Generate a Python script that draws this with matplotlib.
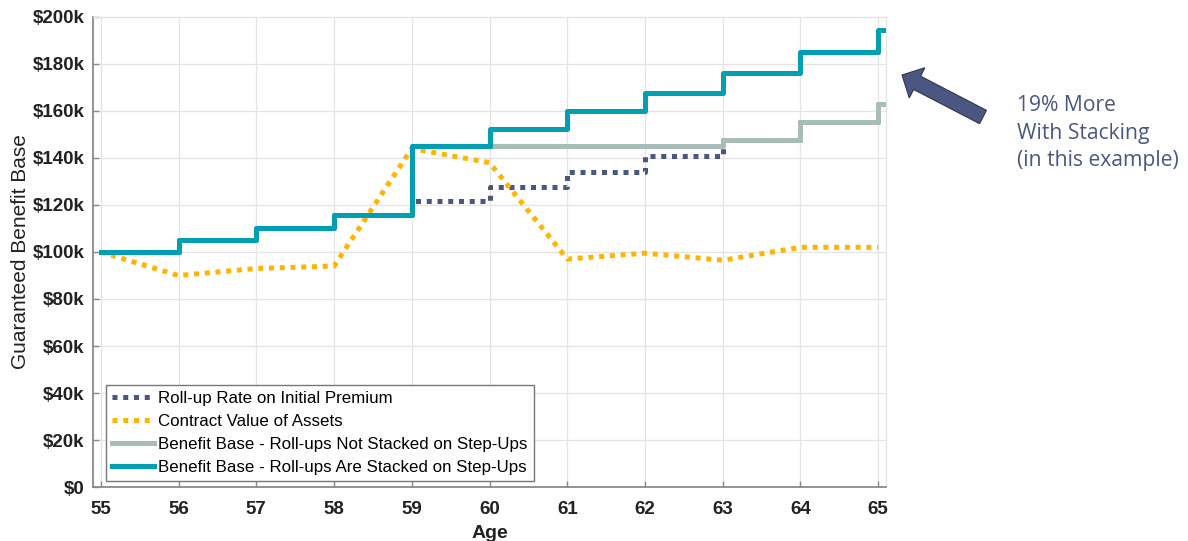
import numpy as np
import matplotlib.pyplot as plt
from matplotlib.patches import Polygon
from matplotlib.ticker import FuncFormatter

plt.rcParams['font.family'] = ['Liberation Sans', 'DejaVu Sans']

# ages and values (thousands of dollars)
ages = [55, 56, 57, 58, 59, 60, 61, 62, 63, 64, 65]
rollup = [100, 105, 110.25, 115.76, 121.55, 127.63, 134.01, 140.71, 147.75, 155.13, 162.89]
contract = [100, 90, 93, 94, 144, 138, 97, 99.5, 96.5, 102, 102]
not_stacked = [100, 105, 110.25, 115.76, 145, 145, 145, 145, 147.75, 155.13, 162.89]
stacked = [100, 105, 110.25, 115.76, 145, 152.25, 159.86, 167.86, 176.25, 185.06, 194.31]

# step lines run a little past the last age
step_ages = ages + [65.1]

C_NAVY = '#4b5682'
C_GOLD = '#ffb500'
C_GRAY = '#a8bcb8'
C_TEAL = '#009fb2'

W, H = 1188, 541
fig = plt.figure(figsize=(W / 100, H / 100), dpi=100)
ax = fig.add_axes([0.0783, 0.0998, 0.6675, 0.8688])

LW = 3.6
dots = (0, (1, 1.15))
ax.plot(step_ages, rollup + [rollup[-1]], drawstyle='steps-post', color=C_NAVY,
        lw=LW, linestyle=dots, dash_capstyle='butt', label='Roll-up Rate on Initial Premium', zorder=3)
ax.plot(ages, contract, color=C_GOLD, lw=LW, linestyle=dots, dash_capstyle='butt',
        label='Contract Value of Assets', zorder=3)
ax.plot(step_ages, not_stacked + [not_stacked[-1]], drawstyle='steps-post', color=C_GRAY,
        lw=LW, label='Benefit Base - Roll-ups Not Stacked on Step-Ups', zorder=4)
ax.plot(step_ages, stacked + [stacked[-1]], drawstyle='steps-post', color=C_TEAL,
        lw=LW, label='Benefit Base - Roll-ups Are Stacked on Step-Ups', zorder=5)

ax.set_xlim(54.9, 65.1)
ax.set_ylim(0, 200)
ax.set_xticks(ages)
ax.set_yticks(np.arange(0, 201, 20))
ax.yaxis.set_major_formatter(FuncFormatter(lambda v, p: '$0' if v == 0 else '${:.0f}k'.format(v)))
ax.tick_params(direction='in', length=4, width=1, color='#888888', labelsize=13.5)
ax.tick_params(axis='x', pad=10)
ax.tick_params(axis='y', pad=6)
for lab in ax.get_xticklabels() + ax.get_yticklabels():
    lab.set_fontweight('bold')
    lab.set_color('#222222')

ax.grid(True, color='#e4e4e4', lw=0.9)
ax.set_axisbelow(True)
for side in ['left', 'bottom']:
    ax.spines[side].set_color('#8a8a8a')
    ax.spines[side].set_linewidth(1.3)
for side in ['top', 'right']:
    ax.spines[side].set_color('#e4e4e4')
    ax.spines[side].set_linewidth(0.9)

ax.set_ylabel('Guaranteed Benefit Base', fontsize=15, color='#222222', labelpad=2)
ax.set_xlabel('Age', fontsize=14, fontweight='bold', color='#222222', labelpad=5)

leg = ax.legend(loc='lower left', bbox_to_anchor=(0.012, 0.005), fontsize=12.2, handlelength=2.5,
                handletextpad=0.25, labelspacing=0.48, borderpad=0.35, borderaxespad=0.2,
                fancybox=False, framealpha=1, edgecolor='#777777')
leg.get_frame().set_linewidth(1.0)

# callout arrow, laid out in pixels then mapped to figure fractions
tip = np.array([902.0, 75.0])
tail = np.array([983.0, 117.0])
u = (tip - tail) / np.linalg.norm(tip - tail)
n = np.array([-u[1], u[0]])
base = tip - 17 * u
pts = [tip, base + 17 * n, base + 7.5 * n, tail + 7.5 * n,
       tail - 7.5 * n, base - 7.5 * n, base - 17 * n]
pts = [(p[0] / W, 1 - p[1] / H) for p in pts]
fig.patches.append(Polygon(pts, closed=True, transform=fig.transFigure, figure=fig,
                           facecolor='#4b5682', edgecolor='#2f3650', lw=0.8))
fig.text(1017 / W, 1 - 95 / H, '19% More\nWith Stacking\n(in this example)',
         fontsize=15.2, color='#4b5682', va='top', ha='left', linespacing=1.42,
         family=['Open Sans', 'DejaVu Sans'])

fig.savefig('out.png', dpi=100)
